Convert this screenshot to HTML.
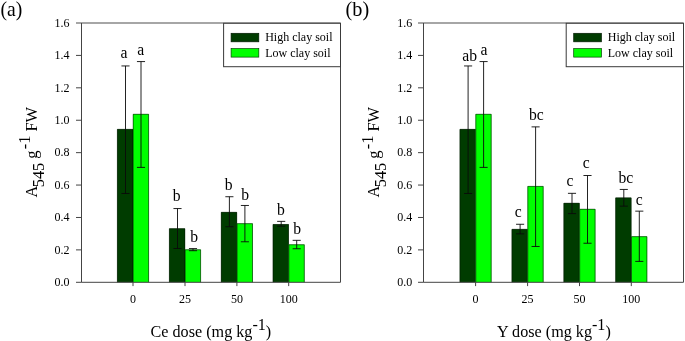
<!DOCTYPE html>
<html><head><meta charset="utf-8"><title>Figure</title>
<style>
html,body{margin:0;padding:0;background:#fff;}
svg{display:block;will-change:transform;font-family:"Liberation Serif",serif;fill:#000;}
</style></head><body>
<svg width="685" height="341" viewBox="0 0 685 341">
<rect width="685" height="341" fill="#fff"/>
<g transform="translate(0,0)">
<text transform="translate(0.5,15.5) scale(0.97,1)" font-size="20.3">(a)</text>
<rect x="117.20" y="129.15" width="15.80" height="153.15" fill="#003c00"/>
<path d="M117.40 282.3V129.35H132.80V282.3" fill="none" stroke="#001800" stroke-width="0.6"/>
<rect x="133.00" y="114.08" width="15.80" height="168.22" fill="#00ff00"/>
<path d="M133.20 282.3V114.28H148.60V282.3" fill="none" stroke="#001800" stroke-width="0.6"/>
<rect x="169.20" y="228.50" width="15.80" height="53.80" fill="#003c00"/>
<path d="M169.40 282.3V228.70H184.80V282.3" fill="none" stroke="#001800" stroke-width="0.6"/>
<rect x="185.00" y="249.56" width="15.80" height="32.74" fill="#00ff00"/>
<path d="M185.20 282.3V249.76H200.60V282.3" fill="none" stroke="#001800" stroke-width="0.6"/>
<rect x="221.10" y="212.13" width="15.80" height="70.17" fill="#003c00"/>
<path d="M221.30 282.3V212.33H236.70V282.3" fill="none" stroke="#001800" stroke-width="0.6"/>
<rect x="236.90" y="223.47" width="15.80" height="58.83" fill="#00ff00"/>
<path d="M237.10 282.3V223.67H252.50V282.3" fill="none" stroke="#001800" stroke-width="0.6"/>
<rect x="272.90" y="224.28" width="15.80" height="58.02" fill="#003c00"/>
<path d="M273.10 282.3V224.48H288.50V282.3" fill="none" stroke="#001800" stroke-width="0.6"/>
<rect x="288.70" y="244.54" width="15.80" height="37.76" fill="#00ff00"/>
<path d="M288.90 282.3V244.74H304.30V282.3" fill="none" stroke="#001800" stroke-width="0.6"/>
<path d="M125.50 65.95V193.49M121.45 65.95h8.1M121.45 193.49h8.1" stroke="#0a0a0a" stroke-width="0.9" fill="none"/>
<text transform="translate(124.10,58.40) scale(0.89,1)" font-size="17.6" text-anchor="middle">a</text>
<path d="M141.00 61.57V167.40M136.95 61.57h8.1M136.95 167.40h8.1" stroke="#0a0a0a" stroke-width="0.9" fill="none"/>
<text transform="translate(140.70,54.90) scale(0.89,1)" font-size="17.6" text-anchor="middle">a</text>
<path d="M177.50 208.56V248.49M173.45 208.56h8.1M173.45 248.49h8.1" stroke="#0a0a0a" stroke-width="0.9" fill="none"/>
<text transform="translate(176.60,201.40) scale(0.89,1)" font-size="17.6" text-anchor="middle">b</text>
<path d="M193.00 248.59V250.70M188.95 248.59h8.1M188.95 250.70h8.1" stroke="#0a0a0a" stroke-width="0.9" fill="none"/>
<text transform="translate(194.25,241.50) scale(0.89,1)" font-size="17.6" text-anchor="middle">b</text>
<path d="M229.40 196.73V226.71M225.35 196.73h8.1M225.35 226.71h8.1" stroke="#0a0a0a" stroke-width="0.9" fill="none"/>
<text transform="translate(228.75,189.80) scale(0.89,1)" font-size="17.6" text-anchor="middle">b</text>
<path d="M244.90 205.48V241.78M240.85 205.48h8.1M240.85 241.78h8.1" stroke="#0a0a0a" stroke-width="0.9" fill="none"/>
<text transform="translate(245.20,199.50) scale(0.89,1)" font-size="17.6" text-anchor="middle">b</text>
<path d="M281.20 221.36V226.23M277.15 221.36h8.1M277.15 226.23h8.1" stroke="#0a0a0a" stroke-width="0.9" fill="none"/>
<text transform="translate(280.80,215.00) scale(0.89,1)" font-size="17.6" text-anchor="middle">b</text>
<path d="M296.70 240.33V248.75M292.65 240.33h8.1M292.65 248.75h8.1" stroke="#0a0a0a" stroke-width="0.9" fill="none"/>
<text transform="translate(297.20,233.80) scale(0.89,1)" font-size="17.6" text-anchor="middle">b</text>
<path d="M76.0 23.0H340.5" stroke="#000" stroke-width="0.7" fill="none"/>
<path d="M81.5 23.0V282.3H340.5V23.0" stroke="#444" stroke-width="1" fill="none"/>
<path d="M76.0 282.30H81.5" stroke="#444" stroke-width="1"/>
<text x="69.6" y="286.00" font-size="12" text-anchor="end">0.0</text>
<path d="M76.0 249.89H81.5" stroke="#444" stroke-width="1"/>
<text x="69.6" y="253.59" font-size="12" text-anchor="end">0.2</text>
<path d="M76.0 217.48H81.5" stroke="#444" stroke-width="1"/>
<text x="69.6" y="221.18" font-size="12" text-anchor="end">0.4</text>
<path d="M76.0 185.06H81.5" stroke="#444" stroke-width="1"/>
<text x="69.6" y="188.76" font-size="12" text-anchor="end">0.6</text>
<path d="M76.0 152.65H81.5" stroke="#444" stroke-width="1"/>
<text x="69.6" y="156.35" font-size="12" text-anchor="end">0.8</text>
<path d="M76.0 120.24H81.5" stroke="#444" stroke-width="1"/>
<text x="69.6" y="123.94" font-size="12" text-anchor="end">1.0</text>
<path d="M76.0 87.82H81.5" stroke="#444" stroke-width="1"/>
<text x="69.6" y="91.52" font-size="12" text-anchor="end">1.2</text>
<path d="M76.0 55.41H81.5" stroke="#444" stroke-width="1"/>
<text x="69.6" y="59.11" font-size="12" text-anchor="end">1.4</text>
<text x="69.6" y="26.70" font-size="12" text-anchor="end">1.6</text>
<path d="M133.0 282.3V286.1" stroke="#444" stroke-width="1"/>
<text x="133.0" y="302.8" font-size="12" text-anchor="middle">0</text>
<path d="M185.0 282.3V286.1" stroke="#444" stroke-width="1"/>
<text x="185.0" y="302.8" font-size="12" text-anchor="middle">25</text>
<path d="M236.9 282.3V286.1" stroke="#444" stroke-width="1"/>
<text x="236.9" y="302.8" font-size="12" text-anchor="middle">50</text>
<path d="M288.7 282.3V286.1" stroke="#444" stroke-width="1"/>
<text x="288.7" y="302.8" font-size="12" text-anchor="middle">100</text>
<rect x="223.6" y="23.3" width="116.90" height="43.4" fill="#fff" stroke="#3a3a3a" stroke-width="1"/>
<rect x="231.1" y="33.3" width="27.7" height="8.5" fill="#003c00" stroke="#001800" stroke-width="0.7"/>
<rect x="231.1" y="48.6" width="27.7" height="8.5" fill="#00ff00" stroke="#004000" stroke-width="0.7"/>
<text x="265.2" y="41.4" font-size="12">High clay soil</text>
<text x="265.2" y="56.9" font-size="12">Low clay soil</text>
<g transform="translate(36.8,198) rotate(-90)" font-size="16.4"><text x="0.5" y="0">A</text><text x="10.7" y="6.8">545</text><text x="39.2" y="0">g</text><text x="48.7" y="-6.5">-</text><text x="54.2" y="-6.5">1</text><text x="66.5" y="0">FW</text></g>
<text transform="translate(210.9,336.7) scale(0.968,1)" font-size="16.7" text-anchor="middle">Ce dose (mg kg<tspan dy="-6.6">-1</tspan><tspan dy="6.6">)</tspan></text>
</g>
<g transform="translate(342.6,0)">
<text transform="translate(3.0,16.35) scale(1.0,1)" font-size="20.3">(b)</text>
<rect x="117.20" y="129.15" width="15.80" height="153.15" fill="#003c00"/>
<path d="M117.40 282.3V129.35H132.80V282.3" fill="none" stroke="#001800" stroke-width="0.6"/>
<rect x="133.00" y="114.08" width="15.80" height="168.22" fill="#00ff00"/>
<path d="M133.20 282.3V114.28H148.60V282.3" fill="none" stroke="#001800" stroke-width="0.6"/>
<rect x="169.20" y="229.14" width="15.80" height="53.16" fill="#003c00"/>
<path d="M169.40 282.3V229.34H184.80V282.3" fill="none" stroke="#001800" stroke-width="0.6"/>
<rect x="185.00" y="186.20" width="15.80" height="96.10" fill="#00ff00"/>
<path d="M185.20 282.3V186.40H200.60V282.3" fill="none" stroke="#001800" stroke-width="0.6"/>
<rect x="221.10" y="203.05" width="15.80" height="79.25" fill="#003c00"/>
<path d="M221.30 282.3V203.25H236.70V282.3" fill="none" stroke="#001800" stroke-width="0.6"/>
<rect x="236.90" y="209.05" width="15.80" height="73.25" fill="#00ff00"/>
<path d="M237.10 282.3V209.25H252.50V282.3" fill="none" stroke="#001800" stroke-width="0.6"/>
<rect x="272.90" y="197.70" width="15.80" height="84.60" fill="#003c00"/>
<path d="M273.10 282.3V197.90H288.50V282.3" fill="none" stroke="#001800" stroke-width="0.6"/>
<rect x="288.70" y="236.44" width="15.80" height="45.86" fill="#00ff00"/>
<path d="M288.90 282.3V236.64H304.30V282.3" fill="none" stroke="#001800" stroke-width="0.6"/>
<path d="M125.50 65.95V193.49M121.45 65.95h8.1M121.45 193.49h8.1" stroke="#0a0a0a" stroke-width="0.9" fill="none"/>
<text transform="translate(127.10,60.50) scale(0.89,1)" font-size="17.6" text-anchor="middle">ab</text>
<path d="M141.00 61.57V167.40M136.95 61.57h8.1M136.95 167.40h8.1" stroke="#0a0a0a" stroke-width="0.9" fill="none"/>
<text transform="translate(141.40,54.90) scale(0.89,1)" font-size="17.6" text-anchor="middle">a</text>
<path d="M177.50 224.28V233.84M173.45 224.28h8.1M173.45 233.84h8.1" stroke="#0a0a0a" stroke-width="0.9" fill="none"/>
<text transform="translate(175.60,217.10) scale(0.89,1)" font-size="17.6" text-anchor="middle">c</text>
<path d="M193.00 126.88V246.48M188.95 126.88h8.1M188.95 246.48h8.1" stroke="#0a0a0a" stroke-width="0.9" fill="none"/>
<text transform="translate(193.80,119.70) scale(0.89,1)" font-size="17.6" text-anchor="middle">bc</text>
<path d="M229.40 193.33V213.59M225.35 193.33h8.1M225.35 213.59h8.1" stroke="#0a0a0a" stroke-width="0.9" fill="none"/>
<text transform="translate(227.30,186.00) scale(0.89,1)" font-size="17.6" text-anchor="middle">c</text>
<path d="M244.90 175.50V243.24M240.85 175.50h8.1M240.85 243.24h8.1" stroke="#0a0a0a" stroke-width="0.9" fill="none"/>
<text transform="translate(243.70,168.10) scale(0.89,1)" font-size="17.6" text-anchor="middle">c</text>
<path d="M281.20 189.44V206.13M277.15 189.44h8.1M277.15 206.13h8.1" stroke="#0a0a0a" stroke-width="0.9" fill="none"/>
<text transform="translate(283.30,182.50) scale(0.89,1)" font-size="17.6" text-anchor="middle">bc</text>
<path d="M296.70 211.15V261.39M292.65 211.15h8.1M292.65 261.39h8.1" stroke="#0a0a0a" stroke-width="0.9" fill="none"/>
<text transform="translate(296.70,204.50) scale(0.89,1)" font-size="17.6" text-anchor="middle">c</text>
<path d="M75.4 23.0H340.9" stroke="#000" stroke-width="0.7" fill="none"/>
<path d="M80.9 23.0V282.3H340.9V23.0" stroke="#444" stroke-width="1" fill="none"/>
<path d="M75.4 282.30H80.9" stroke="#444" stroke-width="1"/>
<text x="69.6" y="286.00" font-size="12" text-anchor="end">0.0</text>
<path d="M75.4 249.89H80.9" stroke="#444" stroke-width="1"/>
<text x="69.6" y="253.59" font-size="12" text-anchor="end">0.2</text>
<path d="M75.4 217.48H80.9" stroke="#444" stroke-width="1"/>
<text x="69.6" y="221.18" font-size="12" text-anchor="end">0.4</text>
<path d="M75.4 185.06H80.9" stroke="#444" stroke-width="1"/>
<text x="69.6" y="188.76" font-size="12" text-anchor="end">0.6</text>
<path d="M75.4 152.65H80.9" stroke="#444" stroke-width="1"/>
<text x="69.6" y="156.35" font-size="12" text-anchor="end">0.8</text>
<path d="M75.4 120.24H80.9" stroke="#444" stroke-width="1"/>
<text x="69.6" y="123.94" font-size="12" text-anchor="end">1.0</text>
<path d="M75.4 87.82H80.9" stroke="#444" stroke-width="1"/>
<text x="69.6" y="91.52" font-size="12" text-anchor="end">1.2</text>
<path d="M75.4 55.41H80.9" stroke="#444" stroke-width="1"/>
<text x="69.6" y="59.11" font-size="12" text-anchor="end">1.4</text>
<text x="69.6" y="26.70" font-size="12" text-anchor="end">1.6</text>
<path d="M133.0 282.3V286.1" stroke="#444" stroke-width="1"/>
<text x="133.0" y="302.8" font-size="12" text-anchor="middle">0</text>
<path d="M185.0 282.3V286.1" stroke="#444" stroke-width="1"/>
<text x="185.0" y="302.8" font-size="12" text-anchor="middle">25</text>
<path d="M236.9 282.3V286.1" stroke="#444" stroke-width="1"/>
<text x="236.9" y="302.8" font-size="12" text-anchor="middle">50</text>
<path d="M288.7 282.3V286.1" stroke="#444" stroke-width="1"/>
<text x="288.7" y="302.8" font-size="12" text-anchor="middle">100</text>
<rect x="223.6" y="23.3" width="117.30" height="43.4" fill="#fff" stroke="#3a3a3a" stroke-width="1"/>
<rect x="231.1" y="33.3" width="27.7" height="8.5" fill="#003c00" stroke="#001800" stroke-width="0.7"/>
<rect x="231.1" y="48.6" width="27.7" height="8.5" fill="#00ff00" stroke="#004000" stroke-width="0.7"/>
<text x="265.2" y="41.4" font-size="12">High clay soil</text>
<text x="265.2" y="56.9" font-size="12">Low clay soil</text>
<g transform="translate(36.8,198) rotate(-90)" font-size="16.4"><text x="0.5" y="0">A</text><text x="10.7" y="6.8">545</text><text x="39.2" y="0">g</text><text x="48.7" y="-6.5">-</text><text x="54.2" y="-6.5">1</text><text x="66.5" y="0">FW</text></g>
<text transform="translate(211.3,336.7) scale(0.968,1)" font-size="16.7" text-anchor="middle">Y dose (mg kg<tspan dy="-6.6">-1</tspan><tspan dy="6.6">)</tspan></text>
</g>
</svg>
</body></html>
